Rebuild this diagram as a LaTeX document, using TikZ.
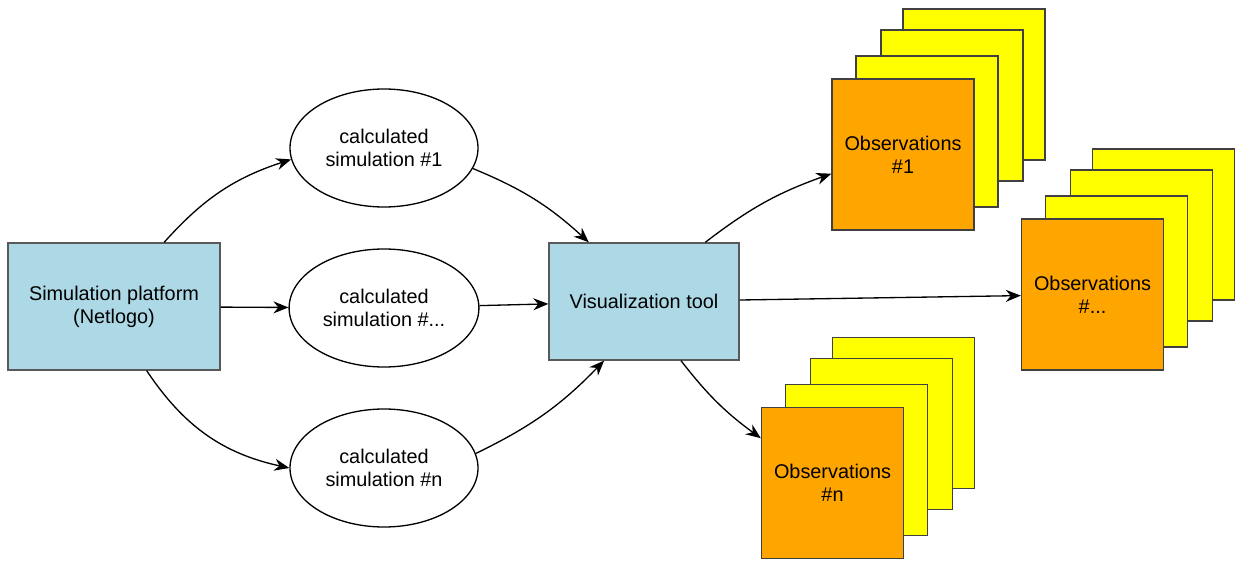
\documentclass[tikz,border=0pt]{standalone}
\usepackage{fontspec}
\setmainfont{Liberation Sans}
\usepackage{tikz}
\usetikzlibrary{arrows.meta,shapes.geometric}
\definecolor{skyblue}{HTML}{ADD8E6}
\definecolor{obsorange}{HTML}{FFA500}
\definecolor{obsyellow}{HTML}{FFFF00}

\begin{document}
\begin{tikzpicture}[x=0.2mm, y=-0.2mm, font=\fontsize{11.3}{13.2}\selectfont,
  >={Stealth[length=3mm,width=2.4mm]}, line width=0.75pt,
  box/.style={draw=black!65, fill=skyblue, align=center},
  sim/.style={draw, ellipse, align=center, minimum width=3.76cm, minimum height=2.36cm},
  card/.style={draw=black!75, align=center, minimum width=2.84cm, minimum height=3.02cm}]
\useasboundingbox (0,0) rectangle (1239,561);
\node[box, minimum width=4.24cm, minimum height=2.54cm] (sim) at (114,306.5) {Simulation platform\\(Netlogo)};
\node[box, minimum width=3.8cm, minimum height=2.34cm]  (vis) at (644,301.5) {Visualization tool};
\node[sim] (ell1) at (384,148) {calculated\\simulation \#1};
\node[sim] (elld) at (384,308) {calculated\\simulation \#...};
\node[sim] (elln) at (384,468) {calculated\\simulation \#n};
% stacks of observation cards
\foreach \nm/\x/\y/\txt in {1/903/154.5/{\#1}, d/1092.5/294.5/{\#...}, n/832.5/483/{\#n}} {
  \foreach \dx/\dy in {71/-70, 49/-49, 24/-23}
    \node[card, fill=obsyellow] at (\x+\dx,\y+\dy) {};
  \node[card, fill=obsorange] (obs\nm) at (\x,\y) {Observations\\\txt};
}
\draw[->] (sim.52) to[bend left=15] (ell1.187);
\draw[->] (sim) -- (elld);
\draw[->] (sim.-63) to[bend right=22] (elln.180);
\draw[->] (ell1.-13) to[bend left=10] (vis.133);
\draw[->] (elld) -- (vis);
\draw[->] (elln.9) to[bend right=10] (vis.236);
\draw[->] (vis.44) to[bend left=9] (obs1.195);
\draw[->] (vis) -- (obsd);
\draw[->] (vis.-58) to[bend right=8] (obsn.148);
\end{tikzpicture}
\end{document}
